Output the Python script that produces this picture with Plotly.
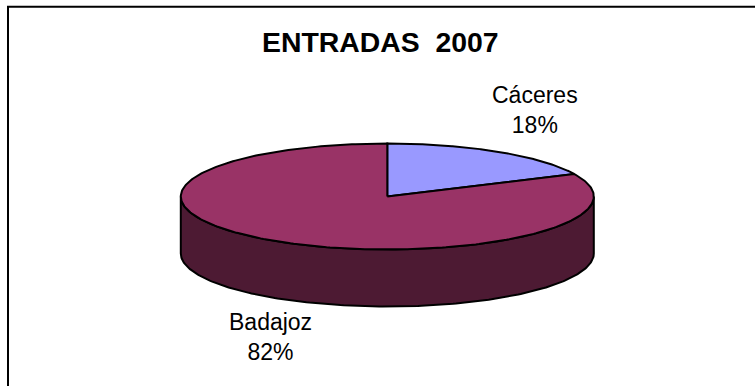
import numpy as np
import plotly.graph_objects as go

title = "ENTRADAS\u00a0\u00a02007"
categories = ["Cáceres", "Badajoz"]
values = [18, 82]
colors = ["#9999FF", "#993366"]
side_color = "#4D1A33"
label_xy = [(534.5, 110), (270.5, 337)]

W, H = 755, 386
cx, cy, a, b, depth = 387.3, 196.5, 206.5, 53, 57
LW = 2
FONT = "Liberation Sans, Arial, sans-serif"


def ell(theta, dy=0.0):
    return cx + a * np.sin(theta), cy - b * np.cos(theta) + dy


fig = go.Figure()

# side wall: visible front half of the rim, in the colour of the slice that covers it
t = np.linspace(np.pi / 2, 3 * np.pi / 2, 200)
xt, yt = ell(t)
xb, yb = ell(t[::-1], depth)
fig.add_trace(go.Scatter(
    x=np.r_[xt, xb, xt[0]], y=np.r_[yt, yb, yt[0]],
    mode="lines", fill="toself", fillcolor=side_color,
    line=dict(color="black", width=LW), hoverinfo="skip", showlegend=False))

# top face slices, clockwise from 12 o'clock
total = sum(values)
start = 0.0
for name, v, c in zip(categories, values, colors):
    end = start + v / total * 2 * np.pi
    t = np.linspace(start, end, 300)
    x, y = ell(t)
    fig.add_trace(go.Scatter(
        x=np.r_[cx, x, cx], y=np.r_[cy, y, cy],
        mode="lines", fill="toself", fillcolor=c,
        line=dict(color="black", width=LW), name=name,
        hoverinfo="name", showlegend=False))
    start = end

annotations = [dict(
    x=380, y=42, xref="x", yref="y", text=f"<b>{title}</b>", showarrow=False,
    font=dict(family=FONT, size=28.4, color="black"))]
for name, v, (lx, ly) in zip(categories, values, label_xy):
    annotations.append(dict(
        x=lx, y=ly, xref="x", yref="y", text=f"{name}<br>{v / total:.0%}",
        showarrow=False, align="center",
        font=dict(family=FONT, size=23, color="black")))

fig.update_layout(
    width=W, height=H, autosize=False,
    margin=dict(l=0, r=0, t=0, b=0),
    paper_bgcolor="white", plot_bgcolor="white",
    xaxis=dict(range=[0, W], visible=False, fixedrange=True),
    yaxis=dict(range=[H, 0], visible=False, fixedrange=True),
    annotations=annotations,
    shapes=[dict(type="rect", xref="x", yref="y", x0=8, y0=6.8, x1=W + 20, y1=H + 20,
                 line=dict(color="black", width=2), layer="below")],
)
fig.write_html(
    "out.html", config=dict(displayModeBar=False),
    post_script="document.body.style.margin='0';document.body.style.overflow='hidden';",
)
